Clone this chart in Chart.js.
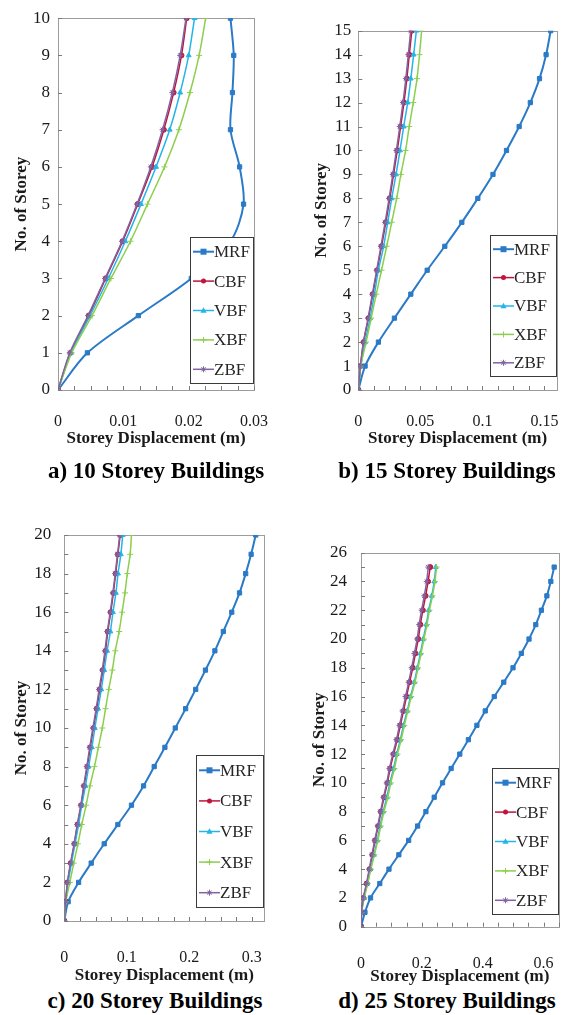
<!DOCTYPE html>
<html>
<head>
<meta charset="utf-8">
<script src="https://cdn.jsdelivr.net/npm/chart.js@4.4.1/dist/chart.umd.min.js"></script>
<style>
  body { margin: 0; background: #fff; width: 581px; height: 1015px; position: relative; overflow: hidden; }
  .panel { position: absolute; }
  .caption { position: absolute; width: 290px; text-align: center; line-height: 26px;
    font-family: "Liberation Serif", "Times New Roman", serif; font-weight: bold; font-size: 23px; color: #000; }
</style>
</head>
<body>
<div class="panel" style="left:0;top:0;width:290px;height:450px"><canvas id="chartA"></canvas></div>
<div class="panel" style="left:290px;top:0;width:291px;height:450px"><canvas id="chartB"></canvas></div>
<div class="panel" style="left:0;top:480px;width:290px;height:506px"><canvas id="chartC"></canvas></div>
<div class="panel" style="left:290px;top:480px;width:291px;height:507px"><canvas id="chartD"></canvas></div>
<div class="caption" style="left:11px;top:458px">a) 10 Storey Buildings</div>
<div class="caption" style="left:302px;top:458px">b) 15 Storey Buildings</div>
<div class="caption" style="left:10px;top:988px">c) 20 Storey Buildings</div>
<div class="caption" style="left:302px;top:988px">d) 25 Storey Buildings</div>
<script>
// Series names
const seriesNames = ['MRF', 'CBF', 'VBF', 'XBF', 'ZBF'];

// 10 storey building
const storeys10 = [0, 1, 2, 3, 4, 5, 6, 7, 8, 9, 10];
const mrf10 = [0, 0.0045, 0.0123, 0.0204, 0.0264, 0.0284, 0.0278, 0.0264, 0.0267, 0.0269, 0.0264];
const cbf10 = [0, 0.0019, 0.0047, 0.0073, 0.0099, 0.0122, 0.0144, 0.0162, 0.0177, 0.0189, 0.0197];
const vbf10 = [0, 0.0020, 0.0049, 0.0077, 0.0103, 0.0127, 0.0150, 0.0171, 0.0187, 0.0200, 0.0209];
const xbf10 = [0, 0.0021, 0.0052, 0.0081, 0.0111, 0.0137, 0.0163, 0.0185, 0.0202, 0.0216, 0.0226];
const zbf10 = [0, 0.0018, 0.0046, 0.0072, 0.0098, 0.0121, 0.0142, 0.0160, 0.0175, 0.0187, 0.0196];

// 15 storey building
const storeys15 = [0, 1, 2, 3, 4, 5, 6, 7, 8, 9, 10, 11, 12, 13, 14, 15];
const mrf15 = [0, 0.0055, 0.0162, 0.0291, 0.0423, 0.0555, 0.0697, 0.0834, 0.0963, 0.1085, 0.1194, 0.1296, 0.1386, 0.1460, 0.1513, 0.1550];
const cbf15 = [0, 0.0018, 0.0043, 0.0082, 0.0117, 0.0152, 0.0187, 0.0222, 0.0254, 0.0284, 0.0314, 0.0341, 0.0368, 0.0391, 0.0411, 0.0431];
const vbf15 = [0, 0.0020, 0.0055, 0.0095, 0.0130, 0.0162, 0.0204, 0.0237, 0.0269, 0.0304, 0.0336, 0.0366, 0.0398, 0.0423, 0.0446, 0.0468];
const xbf15 = [0, 0.0020, 0.0063, 0.0104, 0.0145, 0.0187, 0.0229, 0.0269, 0.0309, 0.0343, 0.0381, 0.0410, 0.0443, 0.0473, 0.0493, 0.0510];
const zbf15 = [0, 0.0017, 0.0041, 0.0079, 0.0113, 0.0148, 0.0182, 0.0216, 0.0248, 0.0278, 0.0307, 0.0334, 0.0360, 0.0383, 0.0403, 0.0422];

// 20 storey building
const storeys20 = [0, 1, 2, 3, 4, 5, 6, 7, 8, 9, 10, 11, 12, 13, 14, 15, 16, 17, 18, 19, 20];
const mrf20 = [0, 0.0062, 0.0229, 0.0431, 0.0639, 0.0857, 0.1075, 0.1268, 0.1439, 0.1610, 0.1776, 0.1942, 0.2103, 0.2259, 0.2410, 0.2545, 0.2680, 0.2804, 0.2903, 0.2990, 0.3064];
const cbf20 = [0, 0.0022, 0.0053, 0.0104, 0.0162, 0.0213, 0.0271, 0.0317, 0.0369, 0.0416, 0.0467, 0.0520, 0.0567, 0.0618, 0.0660, 0.0696, 0.0743, 0.0785, 0.0822, 0.0858, 0.0894];
const vbf20 = [0, 0.0022, 0.0062, 0.0115, 0.0171, 0.0229, 0.0280, 0.0338, 0.0390, 0.0442, 0.0489, 0.0540, 0.0592, 0.0639, 0.0685, 0.0738, 0.0779, 0.0826, 0.0860, 0.0905, 0.0935];
const xbf20 = [0, 0.0026, 0.0089, 0.0151, 0.0218, 0.0280, 0.0349, 0.0411, 0.0483, 0.0545, 0.0608, 0.0660, 0.0712, 0.0769, 0.0816, 0.0878, 0.0925, 0.0971, 0.1008, 0.1054, 0.1075];
const zbf20 = [0, 0.0020, 0.0050, 0.0100, 0.0157, 0.0207, 0.0264, 0.0310, 0.0360, 0.0407, 0.0457, 0.0510, 0.0557, 0.0607, 0.0650, 0.0688, 0.0735, 0.0777, 0.0815, 0.0852, 0.0888];

// 25 storey building
const storeys25 = [0, 1, 2, 3, 4, 5, 6, 7, 8, 9, 10, 11, 12, 13, 14, 15, 16, 17, 18, 19, 20, 21, 22, 23, 24, 25];
const mrf25 = [0, 0.0130, 0.0313, 0.0617, 0.0920, 0.1244, 0.1566, 0.1860, 0.2134, 0.2407, 0.2680, 0.2963, 0.3247, 0.3530, 0.3810, 0.4085, 0.4380, 0.4693, 0.4997, 0.5270, 0.5523, 0.5745, 0.5930, 0.6110, 0.6240, 0.6350];
const cbf25 = [0, 0.0020, 0.0080, 0.0192, 0.0283, 0.0374, 0.0465, 0.0566, 0.0657, 0.0759, 0.0869, 0.0960, 0.1071, 0.1193, 0.1294, 0.1396, 0.1496, 0.1598, 0.1700, 0.1790, 0.1882, 0.1952, 0.2033, 0.2124, 0.2204, 0.2276];
const vbf25 = [0, 0.0020, 0.0100, 0.0212, 0.0313, 0.0425, 0.0535, 0.0626, 0.0728, 0.0850, 0.0950, 0.1071, 0.1173, 0.1294, 0.1396, 0.1517, 0.1628, 0.1750, 0.1851, 0.1952, 0.2043, 0.2144, 0.2225, 0.2326, 0.2407, 0.2458];
const xbf25 = [0, 0.0025, 0.0105, 0.0220, 0.0325, 0.0440, 0.0555, 0.0650, 0.0755, 0.0880, 0.0980, 0.1100, 0.1200, 0.1320, 0.1425, 0.1540, 0.1650, 0.1775, 0.1875, 0.1975, 0.2070, 0.2170, 0.2250, 0.2350, 0.2430, 0.2485];
const zbf25 = [0, 0.0018, 0.0075, 0.0180, 0.0270, 0.0360, 0.0450, 0.0550, 0.0640, 0.0740, 0.0845, 0.0935, 0.1045, 0.1165, 0.1265, 0.1365, 0.1465, 0.1565, 0.1665, 0.1755, 0.1845, 0.1912, 0.1992, 0.2080, 0.2160, 0.2210];

const SERIF = '"Liberation Serif", "Times New Roman", serif';
const colors = ['#2a7ac7', '#c0143c', '#22b5ea', '#8ccf4d', '#8064a2'];
const markers = ['rect', 'circle', 'triangle', 'cross', 'star'];
const radii = [3, 2.5, 2.8, 3, 3];
const widths = [2, 1.5, 1.5, 1.5, 1.5];

function fmt(v) {
  return parseFloat(v.toFixed(4)).toString();
}

function drawMarker(ctx, style, x, y, r, color) {
  ctx.save();
  ctx.fillStyle = color;
  ctx.strokeStyle = color;
  ctx.lineWidth = 1;
  ctx.beginPath();
  if (style === 'rect') {
    ctx.rect(x - r, y - r, 2 * r, 2 * r);
    ctx.fill();
  } else if (style === 'circle') {
    ctx.arc(x, y, r, 0, Math.PI * 2);
    ctx.fill();
  } else if (style === 'triangle') {
    ctx.moveTo(x, y - r * 1.2);
    ctx.lineTo(x + r * 1.1, y + r * 0.8);
    ctx.lineTo(x - r * 1.1, y + r * 0.8);
    ctx.closePath();
    ctx.fill();
  } else {
    ctx.moveTo(x - r, y); ctx.lineTo(x + r, y);
    ctx.moveTo(x, y - r); ctx.lineTo(x, y + r);
    if (style === 'star') {
      ctx.moveTo(x - r * 0.7, y - r * 0.7); ctx.lineTo(x + r * 0.7, y + r * 0.7);
      ctx.moveTo(x + r * 0.7, y - r * 0.7); ctx.lineTo(x - r * 0.7, y + r * 0.7);
    }
    ctx.stroke();
  }
  ctx.restore();
}

// plot frame and inward tick marks
const framePlugin = {
  id: 'frame',
  beforeDatasetsDraw(chart, args, o) {
    const { ctx, chartArea: a, scales: { x, y } } = chart;
    ctx.save();
    ctx.strokeStyle = '#9c9c9c';
    ctx.lineWidth = 1;
    ctx.strokeRect(Math.round(a.left) + 0.5, Math.round(a.top) + 0.5,
      Math.round(a.right - a.left), Math.round(a.bottom - a.top));
    ctx.strokeStyle = '#7a7a7a';
    ctx.beginPath();
    for (let v = 0; v <= x.max + 1e-9; v += o.xMinor) {
      const px = Math.round(x.getPixelForValue(v)) + 0.5;
      ctx.moveTo(px, a.bottom);
      ctx.lineTo(px, a.bottom - 4);
    }
    for (let v = 0; v <= y.max + 1e-9; v += o.yMinor) {
      const py = Math.round(y.getPixelForValue(v)) + 0.5;
      ctx.moveTo(a.left, py);
      ctx.lineTo(a.left + 4, py);
    }
    ctx.stroke();
    ctx.restore();
  }
};

// legend box inside the plot area
const legendPlugin = {
  id: 'boxLegend',
  afterDraw(chart, args, o) {
    const { ctx, chartArea: a } = chart;
    const x1 = Math.round(a.right - o.w);
    const y1 = Math.round(a.bottom - o.gap - o.h);
    ctx.save();
    ctx.fillStyle = '#fff';
    ctx.fillRect(x1, y1, o.w, o.h);
    ctx.strokeStyle = '#3a3a3a';
    ctx.lineWidth = 1;
    ctx.strokeRect(x1 + 0.5, y1 + 0.5, o.w - 1, o.h - 1);
    chart.data.datasets.forEach((ds, i) => {
      const cy = y1 + o.h * (i + 0.5) / 5;
      ctx.strokeStyle = ds.borderColor;
      ctx.lineWidth = ds.borderWidth;
      ctx.beginPath();
      ctx.moveTo(x1 + 3, cy);
      ctx.lineTo(x1 + 24, cy);
      ctx.stroke();
      drawMarker(ctx, ds.pointStyle, x1 + 13.5, cy, ds.pointRadius, ds.borderColor);
      ctx.fillStyle = '#262626';
      ctx.font = '17px ' + SERIF;
      ctx.textBaseline = 'middle';
      ctx.textAlign = 'left';
      ctx.fillText(ds.label, x1 + 24, cy + 1);
    });
    ctx.restore();
  }
};

function makeChart(id, storeys, series, p) {
  const datasets = series.map((vals, i) => ({
    label: seriesNames[i],
    data: vals.map((v, k) => ({ x: v, y: storeys[k] })),
    borderColor: colors[i],
    backgroundColor: colors[i],
    pointBackgroundColor: colors[i],
    pointBorderColor: colors[i],
    pointStyle: markers[i],
    pointRadius: radii[i],
    pointBorderWidth: 1,
    borderWidth: widths[i],
    tension: 0.3,
    showLine: true,
    order: 5 - i
  }));

  new Chart(document.getElementById(id), {
    type: 'scatter',
    data: { datasets },
    plugins: [framePlugin, legendPlugin],
    options: {
      responsive: true,
      maintainAspectRatio: false,
      animation: false,
      layout: { padding: { left: 0, top: p.top, right: p.right, bottom: 0 } },
      scales: {
        x: {
          type: 'linear',
          min: 0,
          max: p.xMax,
          grid: { display: false, drawTicks: false },
          border: { display: false },
          ticks: {
            stepSize: p.xStep,
            includeBounds: false,
            padding: p.xPad,
            maxRotation: 0,
            autoSkip: false,
            color: '#1a1a1a',
            font: { family: SERIF, size: 16 },
            callback: v => fmt(v)
          },
          title: {
            display: true,
            text: 'Storey Displacement (m)',
            color: '#1a1a1a',
            font: { family: SERIF, size: 17, weight: 'bold' },
            padding: { top: 0, bottom: p.xTitlePad }
          },
          afterFit: s => { s.height = p.xH; }
        },
        y: {
          type: 'linear',
          min: 0,
          max: p.yMax,
          grid: { display: false, drawTicks: false },
          border: { display: false },
          ticks: {
            stepSize: p.yStep,
            padding: p.yPad,
            autoSkip: false,
            color: '#1a1a1a',
            font: { family: SERIF, size: 17 }
          },
          title: {
            display: true,
            text: 'No. of Storey',
            color: '#1a1a1a',
            font: { family: SERIF, size: 17, weight: 'bold' },
            padding: { top: p.yTitlePad, bottom: 0 }
          },
          afterFit: s => { s.width = p.yW; }
        }
      },
      plugins: {
        legend: { display: false },
        tooltip: { enabled: false },
        frame: { xMinor: p.xStep / 4, yMinor: p.yMinor },
        boxLegend: { w: p.legW, h: p.legH, gap: p.legGap }
      }
    }
  });
}

makeChart('chartA', storeys10, [mrf10, cbf10, vbf10, xbf10, zbf10], {
  top: 15, right: 15, yW: 58, xH: 60, xMax: 0.03, xStep: 0.01, yMax: 10, yStep: 1, yMinor: 1,
  xPad: 22, xTitlePad: 1, yPad: 8, yTitlePad: 11, legW: 64, legH: 147, legGap: 6
});

makeChart('chartB', storeys15, [mrf15, cbf15, vbf15, xbf15, zbf15], {
  top: 30.7, right: 8.3, yW: 68.3, xH: 60, xMax: 0.16, xStep: 0.05, yMax: 15, yStep: 1, yMinor: 1,
  xPad: 22, xTitlePad: 1, yPad: 7, yTitlePad: 21, legW: 67, legH: 142, legGap: 13
});

makeChart('chartC', storeys20, [mrf20, cbf20, vbf20, xbf20, zbf20], {
  top: 55, right: 20, yW: 64.3, xH: 65, xMax: 0.32, xStep: 0.1, yMax: 20, yStep: 2, yMinor: 1,
  xPad: 27, xTitlePad: 0, yPad: 13, yTitlePad: 11, legW: 68, legH: 153, legGap: 13
});

makeChart('chartD', storeys25, [mrf25, cbf25, vbf25, xbf25, zbf25], {
  top: 72.7, right: 6.1, yW: 71, xH: 60.3, xMax: 0.65, xStep: 0.2, yMax: 26, yStep: 2, yMinor: 1,
  xPad: 27, xTitlePad: 0, yPad: 14, yTitlePad: 19, legW: 67, legH: 147, legGap: 12
});
</script>
</body>
</html>
